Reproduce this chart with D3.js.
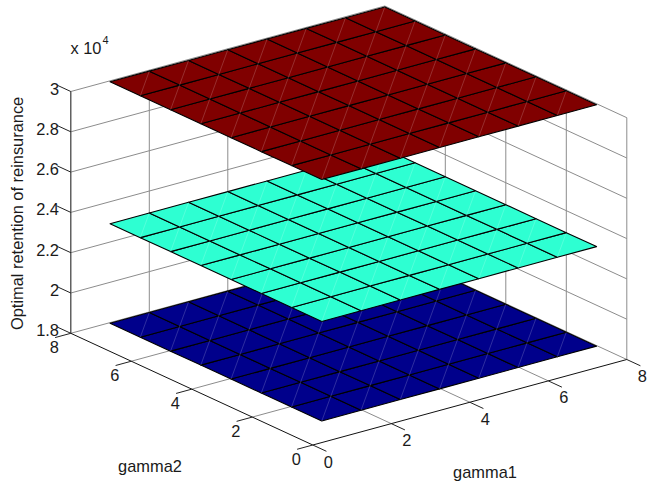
<!DOCTYPE html>
<html>
<head>
<meta charset="utf-8">
<script src="https://cdnjs.cloudflare.com/ajax/libs/d3/7.8.5/d3.min.js"></script>
<style>
body { margin: 0; background: #fff; }
text { font-family: "Liberation Sans", Arial, sans-serif; font-size: 16.4px; fill: #1a1a1a; }
</style>
</head>
<body>
<div id="chart"></div>
<script>
// grid of the three surfaces
var gamma1 = [1, 2, 3, 4, 5, 6, 7, 8];
var gamma2 = [1, 2, 3, 4, 5, 6, 7, 8];
var retentionLow = [1.797];
var retentionMid = [2.291];
var retentionHigh = [2.995];
var surfaceColors = ["#00008b", "#2effd2", "#800000"];

var gammaTicks = [0, 2, 4, 6, 8];
var zTicks = [1.8, 2, 2.2, 2.4, 2.6, 2.8, 3];

var width = 650, height = 486;

var svg = d3.select("#chart").append("svg")
  .attr("width", width)
  .attr("height", height);

// skewed box: each axis adds its own screen offset to the front corner
var g1X = d3.scaleLinear().domain([0, 8]).range([0, 314]);
var g1Y = d3.scaleLinear().domain([0, 8]).range([0, -85.5]);
var g2X = d3.scaleLinear().domain([0, 8]).range([0, -242]);
var g2Y = d3.scaleLinear().domain([0, 8]).range([0, -111.7]);
var zY = d3.scaleLinear().domain([1.8, 3]).range([0, -241.8]);

function project(a, b, z) {
  return [312.8 + g1X(a) + g2X(b), 445 + g1Y(a) + g2Y(b) + zY(z)];
}
var line = d3.line();

function segment(p, q, color, w) {
  svg.append("path")
    .attr("d", line([p, q]))
    .attr("fill", "none")
    .attr("stroke", color)
    .attr("stroke-width", w);
}

var gridColor = "#8c8c8c";

// walls and floor
zTicks.forEach(function (z) {
  segment(project(0, 8, z), project(8, 8, z), gridColor, 1);
  segment(project(8, 8, z), project(8, 0, z), gridColor, 1);
});
gammaTicks.forEach(function (t) {
  segment(project(t, 8, 1.8), project(t, 8, 3), gridColor, 1);
  segment(project(8, t, 1.8), project(8, t, 3), gridColor, 1);
  if (t > 0 && t < 8) {
    segment(project(t, 0, 1.8), project(t, 8, 1.8), gridColor, 1);
    segment(project(0, t, 1.8), project(8, t, 1.8), gridColor, 1);
  }
});

// axis lines
segment(project(0, 8, 1.8), project(0, 8, 3), "#404040", 1);
segment(project(0, 0, 1.8), project(0, 8, 1.8), "#111", 1);
segment(project(0, 0, 1.8), project(8, 0, 1.8), "#111", 1);

// tick marks
gammaTicks.forEach(function (t) {
  segment(project(t, 0, 1.8), project(t, -0.45, 1.8), "#222", 1);
  segment(project(0, t, 1.8), project(-0.4, t, 1.8), "#222", 1);
});
zTicks.forEach(function (z) {
  segment(project(0, 8, z), project(0, 8.45, z), "#222", 1);
});

// surfaces, lowest first so the upper ones cover them
function drawSurface(level, color) {
  var cells = [];
  gamma1.slice(0, -1).forEach(function (a, i) {
    gamma2.slice(0, -1).forEach(function (b, j) {
      cells.push({ a0: a, a1: gamma1[i + 1], b0: b, b1: gamma2[j + 1] });
    });
  });
  var g = svg.append("g");
  g.selectAll("path.cell")
    .data(cells)
    .enter().append("path")
    .attr("class", "cell")
    .attr("fill", color)
    .attr("stroke", "#000")
    .attr("stroke-width", 1.1)
    .attr("stroke-linejoin", "round")
    .attr("d", function (d) {
      return line([
        project(d.a0, d.b0, level),
        project(d.a1, d.b0, level),
        project(d.a1, d.b1, level),
        project(d.a0, d.b1, level)
      ]) + "Z";
    });
  // light seam across every cell
  g.selectAll("path.seam")
    .data(cells)
    .enter().append("path")
    .attr("class", "seam")
    .attr("fill", "none")
    .attr("stroke", "#fff")
    .attr("stroke-opacity", 0.3)
    .attr("stroke-width", 0.6)
    .attr("d", function (d) {
      return line([project(d.a0, d.b0, level), project(d.a1, d.b1, level)]);
    });
}
drawSurface(retentionLow[0], surfaceColors[0]);
drawSurface(retentionMid[0], surfaceColors[1]);
drawSurface(retentionHigh[0], surfaceColors[2]);

// tick labels
var zFormat = function (z) { return String(z); };
svg.selectAll("text.ztick")
  .data(zTicks)
  .enter().append("text")
  .attr("class", "ztick")
  .attr("text-anchor", "end")
  .attr("x", 59)
  .attr("y", function (z) { return project(0, 8, z)[1] + 3; })
  .text(zFormat);

svg.selectAll("text.g2tick")
  .data(gammaTicks)
  .enter().append("text")
  .attr("class", "g2tick")
  .attr("text-anchor", "middle")
  .attr("x", function (t) { return project(0, t, 1.8)[0] - 16.5; })
  .attr("y", function (t) { return project(0, t, 1.8)[1] + 20; })
  .text(zFormat);

svg.selectAll("text.g1tick")
  .data(gammaTicks)
  .enter().append("text")
  .attr("class", "g1tick")
  .attr("text-anchor", "middle")
  .attr("x", function (t) { return project(t, 0, 1.8)[0] + 15.5; })
  .attr("y", function (t) { return project(t, 0, 1.8)[1] + 22.5; })
  .text(zFormat);

// titles
svg.append("text").attr("x", 150).attr("y", 472).attr("text-anchor", "middle").text("gamma2");
svg.append("text").attr("x", 485).attr("y", 477.5).attr("text-anchor", "middle").text("gamma1");
svg.append("text")
  .attr("transform", "translate(22.5,213.4) rotate(-90)")
  .attr("text-anchor", "middle")
  .text("Optimal retention of reinsurance");

// exponent
svg.append("text").attr("x", 70.5).attr("y", 54).text("x 10");
svg.append("text").attr("x", 102.5).attr("y", 43.5).style("font-size", "11px").text("4");
</script>
</body>
</html>
